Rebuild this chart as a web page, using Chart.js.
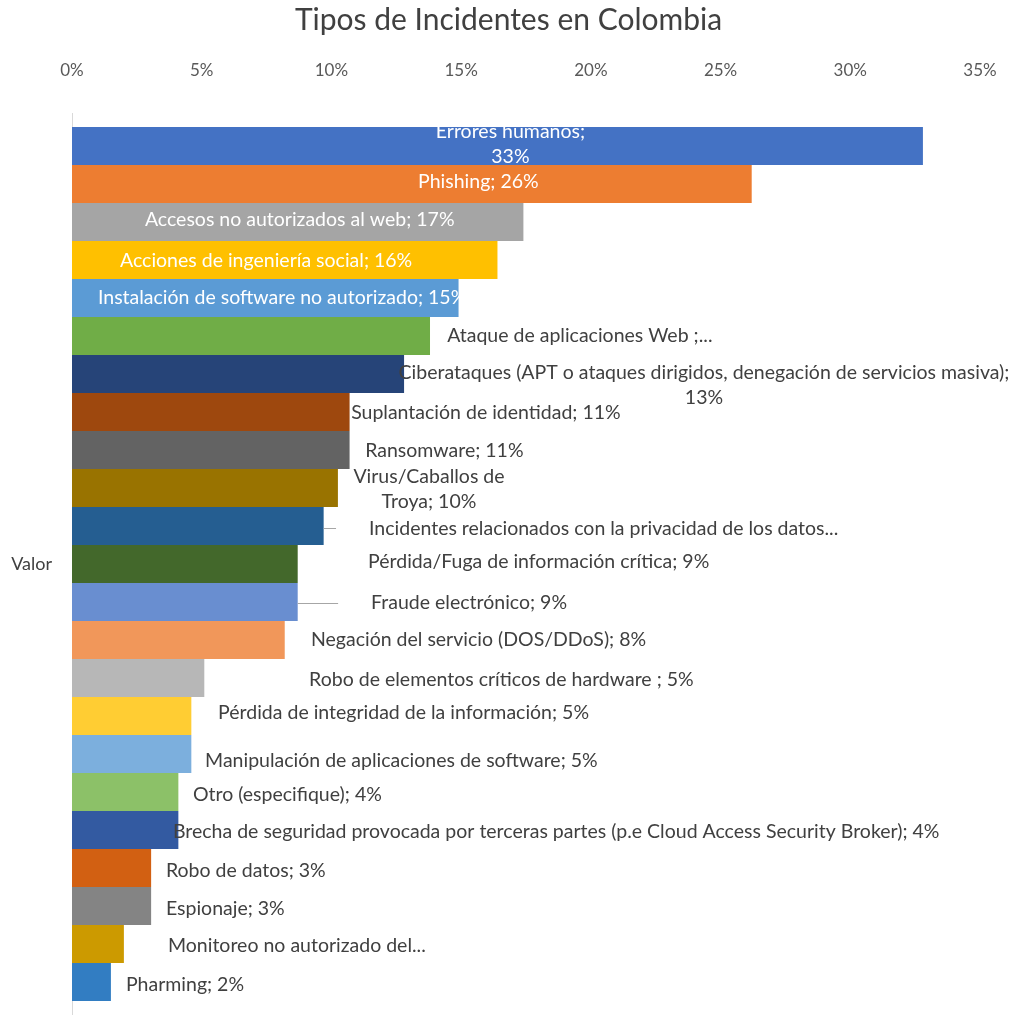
<!DOCTYPE html>
<html>
<head>
<meta charset="utf-8">
<script src="https://cdn.jsdelivr.net/npm/chart.js@4.4.1/dist/chart.umd.min.js"></script>
<style>
  html, body { margin: 0; padding: 0; background: #fff; overflow: hidden; }
  #wrap { width: 1017px; height: 1015px; position: relative; }
</style>
</head>
<body>
<div id="wrap"><canvas id="chart"></canvas></div>
<script>
// data
const categories = ["Valor"];
const incidentNames = [
  "Errores humanos", "Phishing", "Accesos no autorizados al web", "Acciones de ingeniería social",
  "Instalación de software no autorizado", "Ataque de aplicaciones Web",
  "Ciberataques (APT o ataques dirigidos, denegación de servicios masiva)",
  "Suplantación de identidad", "Ransomware", "Virus/Caballos de Troya",
  "Incidentes relacionados con la privacidad de los datos", "Pérdida/Fuga de información crítica",
  "Fraude electrónico", "Negación del servicio (DOS/DDoS)", "Robo de elementos críticos de hardware",
  "Pérdida de integridad de la información", "Manipulación de aplicaciones de software",
  "Otro (especifique)", "Brecha de seguridad provocada por terceras partes (p.e Cloud Access Security Broker)",
  "Robo de datos", "Espionaje", "Monitoreo no autorizado del tráfico", "Pharming"
];
const incidentValues = [32.8, 26.2, 17.4, 16.4, 14.9, 13.8, 12.8, 10.7, 10.7, 10.25, 9.7, 8.7,
  8.7, 8.2, 5.1, 4.6, 4.6, 4.1, 4.1, 3.05, 3.05, 2.0, 1.5];
const labelTexts = [
  "Errores humanos;\n33%", "Phishing; 26%", "Accesos no autorizados al web; 17%",
  "Acciones de ingeniería social; 16%", "Instalación de software no autorizado; 15%",
  "Ataque de aplicaciones Web ;...",
  "Ciberataques (APT o ataques dirigidos, denegación de servicios masiva);\n13%",
  "Suplantación de identidad; 11%", "Ransomware; 11%", "Virus/Caballos de\nTroya; 10%",
  "Incidentes relacionados con la privacidad de los datos...",
  "Pérdida/Fuga de información crítica; 9%", "Fraude electrónico; 9%",
  "Negación del servicio (DOS/DDoS); 8%", "Robo de elementos críticos de hardware ; 5%",
  "Pérdida de integridad de la información; 5%", "Manipulación de aplicaciones de software; 5%",
  "Otro (especifique); 4%",
  "Brecha de seguridad provocada por terceras partes (p.e Cloud Access Security Broker); 4%",
  "Robo de datos; 3%", "Espionaje; 3%", "Monitoreo no autorizado del...", "Pharming; 2%"
];
const barColors = ["#4472C4", "#ED7D31", "#A5A5A5", "#FFC000", "#5B9BD5", "#70AD47", "#264478",
  "#9E480E", "#636363", "#997300", "#255E91", "#43682B", "#698ED0", "#F1975A", "#B7B7B7",
  "#FFCD33", "#7CAFDD", "#8CC168", "#335AA1", "#D26012", "#848484", "#CC9A00", "#327DC2"];

// label placement: [x in axis units, y shift px, align, leader line]
const labelLayout = [
  [16.9, -1.5, "center"], [13.34, -2, "left"], [2.81, -2, "left"], [1.85, 1, "left"],
  [1.0, 0, "left"], [14.46, 0, "left"], [24.36, 11, "center"], [10.76, 1, "left"],
  [11.3, 1, "left"], [13.76, 1.5, "center"], [11.45, 2.5, "left", true], [11.41, -2, "left"],
  [11.53, 1, "left", true], [9.21, 0, "left"], [9.14, 2, "left"], [5.63, -3, "left"],
  [5.13, 7, "left"], [4.66, 3, "left"], [3.89, 2, "left"], [3.62, 3, "left"],
  [3.62, 3, "left"], [3.70, 2, "left"], [2.08, 3, "left"]
];

const FONT = "Lato, 'Open Sans', sans-serif";

const barLabels = {
  id: "barLabels",
  afterDatasetsDraw(chart) {
    const ctx = chart.ctx;
    const xs = chart.scales.x;
    ctx.save();
    ctx.font = "19.5px " + FONT;
    ctx.textBaseline = "middle";
    chart.data.datasets.forEach((ds, i) => {
      const bar = chart.getDatasetMeta(i).data[0];
      if (!bar) return;
      const lay = labelLayout[i];
      const lines = labelTexts[i].split("\n");
      const lh = 25;
      const x = xs.getPixelForValue(lay[0]);
      const y0 = bar.y + lay[1] - (lines.length - 1) * lh / 2;
      ctx.fillStyle = i < 5 ? "#FFFFFF" : "#404040";
      ctx.textAlign = lay[2];
      lines.forEach((t, k) => ctx.fillText(t, x, y0 + k * lh));
      if (lay[3]) {
        ctx.strokeStyle = "#A6A6A6";
        ctx.lineWidth = 1;
        ctx.beginPath();
        ctx.moveTo(bar.x, Math.round(y0) + 0.5);
        ctx.lineTo(x - 33, Math.round(y0) + 0.5);
        ctx.stroke();
      }
    });
    ctx.restore();
  }
};

new Chart(document.getElementById("chart"), {
  type: "bar",
  data: {
    labels: categories,
    datasets: incidentNames.map((name, i) => ({
      label: name,
      data: [incidentValues[i]],
      backgroundColor: barColors[i],
      borderWidth: 0,
      barPercentage: 1,
      categoryPercentage: 0.969
    }))
  },
  options: {
    indexAxis: "y",
    responsive: true,
    maintainAspectRatio: false,
    animation: false,
    layout: { padding: 0 },
    plugins: {
      legend: { display: false },
      tooltip: { enabled: false },
      title: {
        display: true,
        text: "Tipos de Incidentes en Colombia",
        color: "#404040",
        font: { family: FONT, size: 30, weight: "normal" },
        padding: { top: 2, bottom: 5 }
      }
    },
    scales: {
      x: {
        position: "top",
        min: 0,
        max: 35,
        ticks: {
          stepSize: 5,
          padding: 32,
          color: "#595959",
          font: { family: FONT, size: 17 },
          callback: v => v + "%"
        },
        grid: { display: false, drawTicks: false },
        border: { display: false },
        // keep the plot right edge at 35% = x 980
        afterFit: s => { s.height = 70; s.paddingLeft = 0; s.paddingRight = 37; }
      },
      y: {
        ticks: {
          padding: 20,
          color: "#404040",
          font: { family: FONT, size: 18 }
        },
        grid: { display: false, drawTicks: false },
        border: { display: true, color: "#D9D9D9", width: 1 },
        afterFit: s => { s.width = 72; s.paddingTop = 0; s.paddingBottom = 0; }
      }
    }
  },
  plugins: [barLabels]
});
</script>
</body>
</html>
